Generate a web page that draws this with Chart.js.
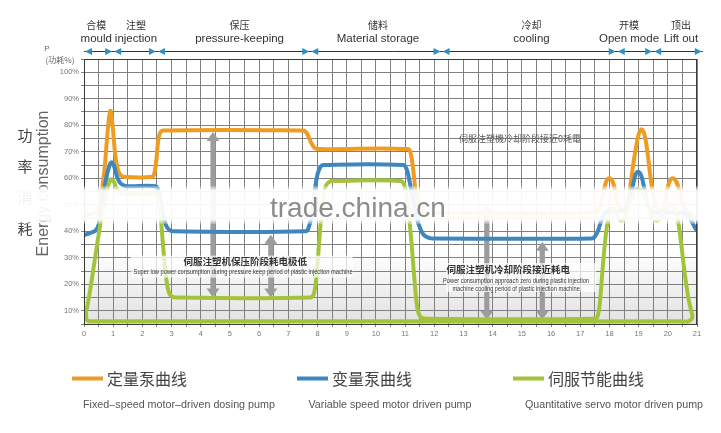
<!DOCTYPE html>
<html>
<head>
<meta charset="utf-8">
<script src="https://cdn.jsdelivr.net/npm/chart.js@4.4.0/dist/chart.umd.min.js"></script>
<style>
  body { margin: 0; background: #fff; }
</style>
</head>
<body>
<canvas id="myChart" width="721" height="433"></canvas>
<script>
// curve values (x = cycle time, y = power %)
const orangeX = [0, 0.4, 0.52, 0.62, 0.7, 0.76, 0.83, 0.9, 0.97, 1.05, 1.14, 1.25, 1.4, 2.3, 2.4, 2.47, 2.53, 2.6, 2.72, 7.5, 7.6, 7.7, 7.8, 7.9, 8.05, 11.1, 11.2, 11.28, 11.36, 11.45, 11.6, 11.8, 17.5, 17.65, 17.8, 17.9, 18.0, 18.1, 18.2, 18.3, 18.45, 18.6, 18.7, 18.8, 18.9, 19.0, 19.1, 19.2, 19.3, 19.4, 19.5, 19.65, 19.82, 19.95, 20.05, 20.17, 20.3, 20.4, 20.52, 20.7, 21];
const orangeY = [46, 47, 50, 56, 63, 71, 80, 85.5, 81, 71, 64, 61.2, 60.5, 60.5, 61.5, 66, 73, 77, 78, 78, 77.5, 75.5, 73, 71.5, 71, 71, 69, 63, 55, 50, 47.5, 47, 47, 48.5, 55, 59, 60, 59, 55, 50, 47.5, 50, 56, 64, 71, 76.5, 78.5, 76.5, 70, 61, 54, 48.5, 48, 54, 58.5, 60, 58.5, 55, 50, 47, 45];

const blueX = [0, 0.2, 0.4, 0.5, 0.6, 0.7, 0.8, 0.9, 0.96, 1.03, 1.12, 1.22, 1.35, 1.5, 2.45, 2.55, 2.63, 2.72, 2.82, 2.92, 3.05, 7.6, 7.7, 7.8, 7.9, 8.0, 8.1, 8.2, 10.93, 11.05, 11.15, 11.27, 11.4, 11.52, 11.65, 11.85, 12.0, 17.4, 17.52, 17.62, 17.72, 17.85, 18.0, 18.3, 18.6, 18.72, 18.82, 18.9, 18.98, 19.07, 19.15, 19.23, 19.32, 19.45, 19.65, 20.5, 20.7, 20.85, 21];
const blueY = [38.5, 39.3, 40.3, 42.5, 49, 56, 62, 65.5, 66, 64.5, 61, 58.5, 57.3, 57, 57, 55.5, 51, 45.5, 42, 40.5, 40, 40, 41.5, 46, 55, 61.5, 64.3, 65, 65, 63.5, 59, 52, 45, 41, 38.5, 37.4, 37.3, 37.3, 38.3, 40.5, 44, 47, 48, 47.5, 49, 53, 58, 61.5, 62.5, 61.5, 58.5, 54, 49.5, 47.5, 47, 47, 46, 43, 40];

// green path is a closed loop: curve left to right, then back along the base line
const greenX = [0.3, 0.12, 0.07, 0.12, 0.2, 0.38, 0.55, 0.7, 0.82, 0.9, 0.96, 1.03, 1.12, 1.25, 1.4, 2.45, 2.55, 2.63, 2.72, 2.82, 2.92, 3.05, 3.2, 7.75, 7.88, 7.97, 8.07, 8.17, 8.28, 8.42, 8.6, 10.85, 10.97, 11.07, 11.2, 11.32, 11.42, 11.52, 11.7, 17.5, 17.6, 17.68, 17.76, 17.85, 17.93, 18.05, 18.15, 18.28, 18.4, 18.55, 18.75, 18.9, 19.0, 19.12, 19.3, 19.5, 19.65, 19.8, 19.95, 20.1, 20.25, 20.35, 20.45, 20.57, 20.7, 20.8, 20.84, 20.72, 20.5, 10, 0.5, 0.25];
const greenY = [6, 6.3, 8.5, 12, 17, 30, 42, 51, 57, 59.2, 59.6, 58.5, 56, 54.3, 54, 54, 52, 45, 33, 22, 16.5, 15.2, 15, 15, 16.5, 24, 38, 50, 57, 58.8, 59, 59, 57.5, 52, 38, 22, 11, 7.8, 7, 7, 8, 14, 25, 36, 43, 48, 48.5, 46, 44, 46, 52, 55.5, 56, 55, 50, 45, 44, 46, 49.5, 50, 48, 44, 36, 25, 15, 10, 7.5, 6.1, 6, 6, 6, 6];

const seriesNames = ['定量泵曲线', '变量泵曲线', '伺服节能曲线'];
const seriesNamesEn = ['Fixed\u2013speed motor\u2013driven dosing pump', 'Variable speed motor driven pump', 'Quantitative servo motor driven pump'];
const seriesColors = ['#ee9c22', '#3e86bf', '#a3c43a'];

// process phases along the top
const phaseBounds = [0, 1, 2.5, 7.75, 12.25, 18.25, 19.5, 21.2];
const phaseCenters = [0.42, 1.78, 5.33, 10.07, 15.33, 18.67, 20.45];
const phaseCN = ['合模', '注塑', '保压', '储料', '冷却', '开模', '顶出'];
const phaseEN = ['mould', 'injection', 'pressure-keeping', 'Material storage', 'cooling', 'Open mode', 'Lift out'];

// gray double arrows: x, top %, bottom %
const arrowX = [4.42, 6.4, 13.8, 15.7];
const arrowTop = [77.5, 38.7, 50, 36];
const arrowBottom = [15, 15, 6.6, 6.6];

const notes = [
  { text: '伺服注塑机保压阶段耗电极低', x: 5.52, y: 28.5, size: 9.5, bold: true, cjk: true, w: 0 },
  { text: 'Super low power consumption during pressure keep period of plastic injection machine', x: 5.45, y: 24.7, size: 6.5, w: 219 },
  { text: '伺服注塑機冷却阶段接近0耗電', x: 14.94, y: 75, size: 9, cjk: true, color: '#555', w: 0 },
  { text: '伺服注塑机冷却阶段接近耗电', x: 14.53, y: 25.5, size: 9.5, bold: true, cjk: true, w: 0 },
  { text: 'Power consumption approach zero during plastic injection', x: 14.8, y: 21.3, size: 6.5, w: 146 },
  { text: 'machine cooling period of plastic injection machine.', x: 14.83, y: 18.3, size: 6.5, w: 129 }
];

const SANS = '"Liberation Sans", Arial, sans-serif';
const CJK = '"Noto Sans CJK SC", "Noto Sans", sans-serif';

function pts(xs, ys) {
  return xs.map(function (v, i) { return { x: v, y: ys[i] }; });
}

const bgPlugin = {
  id: 'bg',
  beforeDraw(chart) {
    const a = chart.chartArea, ctx = chart.ctx;
    const g = ctx.createLinearGradient(0, a.top, 0, a.bottom);
    g.addColorStop(0, '#ffffff');
    g.addColorStop(0.72, '#ffffff');
    g.addColorStop(1, '#e2e2e2');
    ctx.save();
    ctx.fillStyle = g;
    ctx.fillRect(a.left, a.top, a.right - a.left, a.bottom - a.top);
    ctx.restore();
  }
};

const arrowPlugin = {
  id: 'arrows',
  beforeDatasetsDraw(chart) {
    const ctx = chart.ctx, sx = chart.scales.x, sy = chart.scales.y;
    ctx.save();
    ctx.fillStyle = '#9c9c9c';
    for (let i = 0; i < arrowX.length; i++) {
      const cx = sx.getPixelForValue(arrowX[i]);
      const t = sy.getPixelForValue(arrowTop[i]);
      const b = sy.getPixelForValue(arrowBottom[i]);
      const hw = 6.5, sw = 2.6, hl = 9;
      ctx.beginPath();
      ctx.moveTo(cx, t);
      ctx.lineTo(cx + hw, t + hl);
      ctx.lineTo(cx + sw, t + hl);
      ctx.lineTo(cx + sw, b - hl);
      ctx.lineTo(cx + hw, b - hl);
      ctx.lineTo(cx, b);
      ctx.lineTo(cx - hw, b - hl);
      ctx.lineTo(cx - sw, b - hl);
      ctx.lineTo(cx - sw, t + hl);
      ctx.lineTo(cx - hw, t + hl);
      ctx.closePath();
      ctx.fill();
    }
    ctx.restore();
  }
};

const textPlugin = {
  id: 'texts',
  afterDatasetsDraw(chart) {
    const ctx = chart.ctx, a = chart.chartArea, sx = chart.scales.x, sy = chart.scales.y;
    ctx.save();

    // frame
    ctx.strokeStyle = '#3a3a3a';
    ctx.lineWidth = 1;
    ctx.strokeRect(a.left + 0.5, a.top + 0.5, a.right - a.left - 1, a.bottom - a.top);

    // white boxes behind the notes
    ctx.fillStyle = 'rgba(255,255,255,0.72)';
    ctx.fillRect(sx.getPixelForValue(1.6), sy.getPixelForValue(30.8), 222, 22);
    ctx.fillRect(sx.getPixelForValue(12.4), sy.getPixelForValue(28), 150, 29);

    ctx.textAlign = 'center';
    ctx.textBaseline = 'middle';
    notes.forEach(function (n) {
      ctx.fillStyle = n.color || '#333';
      ctx.font = (n.bold ? 'bold ' : '') + n.size + 'px ' + (n.cjk ? CJK : SANS);
      const x = sx.getPixelForValue(n.x), y = sy.getPixelForValue(n.y);
      if (n.w) ctx.fillText(n.text, x, y, n.w); else ctx.fillText(n.text, x, y);
    });

    // phase bar
    const barY = 51.5;
    ctx.strokeStyle = '#333';
    ctx.beginPath();
    ctx.moveTo(sx.getPixelForValue(0), barY);
    ctx.lineTo(sx.getPixelForValue(phaseBounds[phaseBounds.length - 1]), barY);
    ctx.stroke();
    ctx.fillStyle = '#2d8fc2';
    phaseBounds.forEach(function (b, i) {
      const p = sx.getPixelForValue(b);
      if (i > 0) {
        ctx.beginPath();
        ctx.moveTo(p - 1, barY); ctx.lineTo(p - 8, barY - 3.5); ctx.lineTo(p - 8, barY + 3.5);
        ctx.closePath(); ctx.fill();
      }
      if (i < phaseBounds.length - 1) {
        ctx.beginPath();
        ctx.moveTo(p + 1, barY); ctx.lineTo(p + 8, barY - 3.5); ctx.lineTo(p + 8, barY + 3.5);
        ctx.closePath(); ctx.fill();
      }
    });
    phaseCenters.forEach(function (c, i) {
      const p = sx.getPixelForValue(c);
      ctx.fillStyle = '#333';
      ctx.font = '10px ' + CJK;
      ctx.fillText(phaseCN[i], p, 25);
      ctx.font = '11.5px ' + SANS;
      ctx.fillText(phaseEN[i], p, 38.5);
    });

    // y axis title
    ctx.fillStyle = '#666';
    ctx.font = '8px ' + SANS;
    ctx.fillText('P', 47, 49);
    ctx.font = '8px ' + CJK;
    ctx.fillText('(功耗%)', 60, 59.5);

    // side titles
    ctx.fillStyle = '#444';
    ctx.font = '15px ' + CJK;
    ['功', '率', '消', '耗'].forEach(function (ch, i) {
      ctx.fillText(ch, 25, 135 + i * 31);
    });
    ctx.save();
    ctx.translate(44, 183.5);
    ctx.rotate(-Math.PI / 2);
    ctx.fillStyle = '#666';
    ctx.font = '16px ' + SANS;
    ctx.fillText('Energy consumption', 0, 0);
    ctx.restore();

    // legend
    const swatchX = [72, 297, 513];
    const enCenter = [179, 390, 614];
    const enWidth = [192, 163, 178];
    for (let i = 0; i < 3; i++) {
      ctx.fillStyle = seriesColors[i];
      ctx.fillRect(swatchX[i], 376.5, 31, 4);
      ctx.fillStyle = '#444';
      ctx.textAlign = 'left';
      ctx.font = '16px ' + CJK;
      ctx.fillText(seriesNames[i], swatchX[i] + 35, 379);
      ctx.textAlign = 'center';
      ctx.fillStyle = '#555';
      ctx.font = '11px ' + SANS;
      ctx.fillText(seriesNamesEn[i], enCenter[i], 405, enWidth[i]);
    }
    ctx.restore();
  }
};

const watermarkPlugin = {
  id: 'watermark',
  afterDraw(chart) {
    const ctx = chart.ctx;
    ctx.save();
    const g = ctx.createLinearGradient(0, 186, 0, 224);
    g.addColorStop(0, 'rgba(255,255,255,0.2)');
    g.addColorStop(0.12, 'rgba(255,255,255,0.93)');
    g.addColorStop(0.88, 'rgba(255,255,255,0.93)');
    g.addColorStop(1, 'rgba(255,255,255,0.2)');
    ctx.fillStyle = g;
    ctx.fillRect(0, 186, 712, 38);
    ctx.fillStyle = 'rgba(120,120,120,0.85)';
    ctx.font = '28px ' + SANS;
    ctx.textAlign = 'left';
    ctx.textBaseline = 'alphabetic';
    ctx.fillText('trade.china.cn', 270, 217);
    ctx.restore();
  }
};

const lineStyle = { borderWidth: 4, pointRadius: 0, tension: 0.4, fill: false };

new Chart(document.getElementById('myChart').getContext('2d'), {
  type: 'line',
  data: {
    datasets: [
      Object.assign({ label: seriesNames[2], data: pts(greenX, greenY), borderColor: seriesColors[2], order: 1 }, lineStyle),
      Object.assign({ label: seriesNames[1], data: pts(blueX, blueY), borderColor: seriesColors[1], order: 2 }, lineStyle),
      Object.assign({ label: seriesNames[0], data: pts(orangeX, orangeY), borderColor: seriesColors[0], order: 3 }, lineStyle)
    ]
  },
  options: {
    responsive: false,
    animation: false,
    layout: { padding: { top: 59, right: 24, bottom: 89, left: 0 } },
    plugins: { legend: { display: false }, tooltip: { enabled: false } },
    scales: {
      x: {
        type: 'linear', min: 0, max: 21,
        afterFit(s) { s.height = 20; },
        grid: { color: '#808080', lineWidth: 1, tickLength: 3 },
        border: { color: '#3a3a3a' },
        ticks: {
          stepSize: 0.5, autoSkip: false, maxTicksLimit: 100, maxRotation: 0, padding: 2,
          color: '#777', font: { size: 7.5, family: SANS },
          callback: function (v) { return Number.isInteger(v) ? String(v) : ''; }
        }
      },
      y: {
        min: 5, max: 105,
        afterFit(s) { s.width = 84; },
        grid: { color: '#808080', lineWidth: 1, tickLength: 3 },
        border: { color: '#3a3a3a' },
        ticks: {
          stepSize: 5, autoSkip: false, maxTicksLimit: 100, padding: 2,
          color: '#777', font: { size: 7.5, family: SANS },
          callback: function (v) { return v % 10 === 0 ? v + '%' : ''; }
        }
      }
    }
  },
  plugins: [bgPlugin, arrowPlugin, textPlugin, watermarkPlugin]
});
</script>
</body>
</html>
